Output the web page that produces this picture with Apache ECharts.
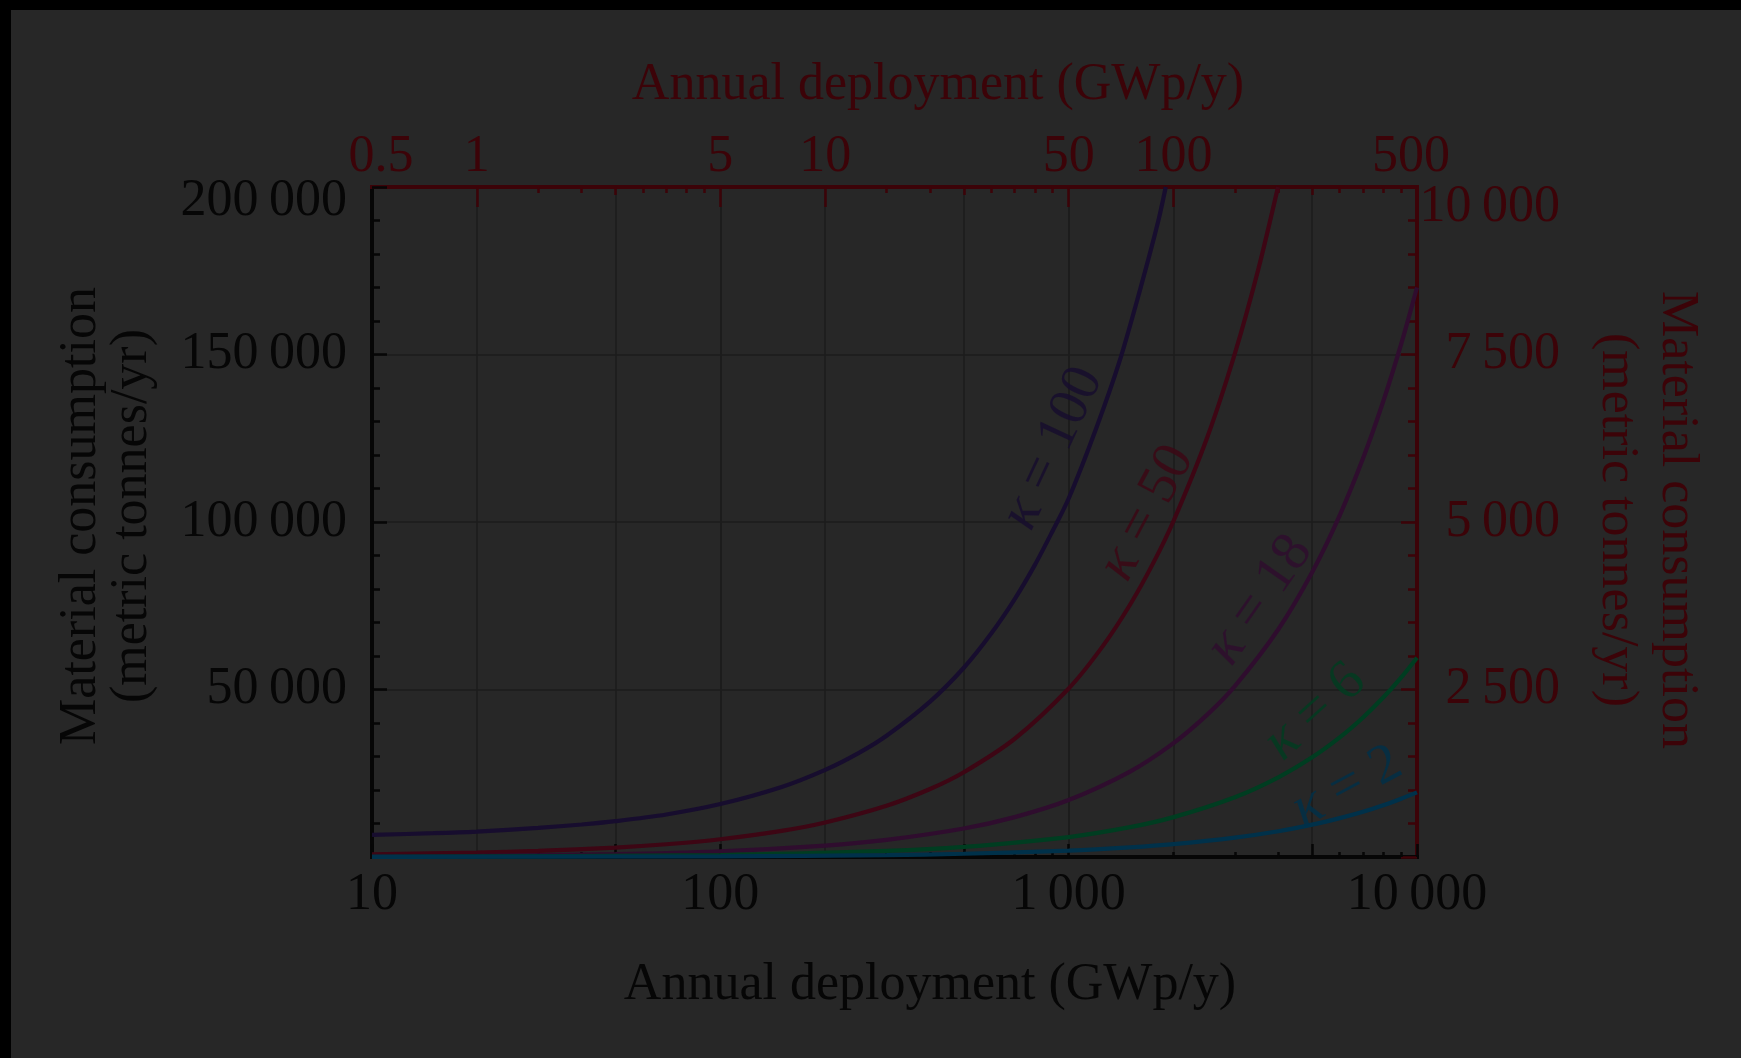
<!DOCTYPE html>
<html>
<head>
<meta charset="utf-8">
<script src="https://cdn.jsdelivr.net/npm/echarts@6/dist/echarts.min.js"></script>
<style>
  html, body { margin: 0; padding: 0; background: #000; }
  #chart { position: absolute; left: 0; top: 0; width: 1741px; height: 1058px; }
</style>
</head>
<body>
<div id="chart"></div>
<script>
// ---- bottom scale: annual deployment (GWp/y) ----
const bottomLabelValues = [10, 100, 1000, 10000];
const bottomMajorTicks = [50, 100, 500, 1000, 5000];
const bottomMinorTicks = [20, 30, 40, 60, 70, 80, 90, 200, 300, 400, 600, 700, 800, 900,
                          2000, 3000, 4000, 6000, 7000, 8000, 9000];

// ---- top scale: annual deployment (GWp/y) ----
const topLabelValues = [0.5, 1, 5, 10, 50, 100, 500];
const topMajorTicks = [1, 5, 10, 50, 100];
const topMidTicks = [2.5, 25, 250];
const topMinorTicks = [1.5, 2, 3, 3.5, 4, 4.5, 15, 20, 30, 35, 40, 45, 150, 200, 300, 350, 400, 450];

// ---- vertical scales: material consumption (metric tonnes/yr) ----
const leftRange = [0, 200000];
const leftStep = 50000;
const rightRange = [0, 10000];
const rightStep = 2500;

// ---- curves: [deployment, consumption] ----
const kappa100 = [[10, 6600], [15, 7100], [20, 7600], [30, 8700], [40, 9700], [50, 10700],
                  [70, 12700], [100, 15800], [150, 20900], [200, 26000], [250, 31100],
                  [300, 36200], [400, 46400], [500, 56500], [600, 66800], [700, 77000],
                  [800, 87200], [900, 97400], [1000, 107000], [1200, 128000], [1400, 148000],
                  [1600, 169000], [1800, 189000], [1900, 200000]];
const kappa50 = [[10, 800], [20, 1300], [30, 1800], [50, 2800], [70, 3800], [100, 5300],
                 [150, 7800], [200, 10300], [300, 15300], [400, 20300], [500, 25300],
                 [700, 35300], [1000, 50300], [1250, 62800], [1500, 75300], [1750, 87800],
                 [2000, 100300], [2500, 125300], [3000, 150300], [3500, 175300], [3990, 200000]];
const kappa18 = [[10, 170], [20, 340], [50, 850], [100, 1700], [200, 3400], [300, 5100],
                 [500, 8500], [700, 11900], [1000, 17000], [1500, 25500], [2000, 34000],
                 [2500, 42500], [3000, 51000], [4000, 68000], [5000, 85000], [6000, 102000],
                 [7000, 119000], [8000, 136000], [9000, 153000], [10000, 170000]];
const kappa6 = [[10, 60], [100, 600], [300, 1800], [500, 3000], [1000, 5950], [1500, 8900],
                [2000, 11900], [3000, 17850], [4000, 23800], [5000, 29750], [6000, 35700],
                [7000, 41650], [8000, 47600], [9000, 53550], [10000, 59500]];
const kappa2 = [[10, 20], [100, 195], [300, 580], [500, 965], [1000, 1930], [1500, 2900],
                [2000, 3860], [3000, 5800], [4000, 7700], [5000, 9650], [6000, 11600],
                [7000, 13500], [8000, 15450], [9000, 17400], [10000, 19300]];

const curveNames = ['κ = 100', 'κ = 50', 'κ = 18', 'κ = 6', 'κ = 2'];
const curveValues = ['100', '50', '18', '6', '2'];
const curves = [kappa100, kappa50, kappa18, kappa6, kappa2];

// ---- appearance ----
const FONT = '"Liberation Serif", "DejaVu Serif", serif';
const INK = '#060606';
const RED = '#3c0308';
const GRID = '#1c1c1c';
const curveColors = ['#170d2e', '#3d0614', '#2f0d2e', '#003d21', '#00314a'];
// where each κ tag sits (deployment, consumption) and its slant in degrees
const tagAnchors = [[902, 122000], [1680, 102700], [3540, 76700], [5100, 43300], [6300, 20900]];
const tagAngles = [65, 62, 55, 42, 28];

function fmt(v) {
  const s = String(v);
  if (Math.abs(v) < 1000) return s;
  return s.replace(/\B(?=(\d{3})+(?!\d))/g, '\u2009');
}
const lg = v => Math.log10(v);

const chart = echarts.init(document.getElementById('chart'), null, { renderer: 'canvas' });

const labelFont = { fontFamily: FONT, fontSize: 52 };
const hiddenLine = { show: false, onZero: false };

const bottomExtent = { min: lg(10), max: lg(10000) };
const topExtent = { min: lg(0.5), max: lg(500) };

const xAxes = [
  // main bottom scale (log), carries the curves
  {
    type: 'log', logBase: 10, position: 'bottom', min: 10, max: 10000,
    axisLine: { show: true, onZero: false, lineStyle: { color: INK, width: 4, cap: 'square' } },
    axisTick: { show: true, inside: true, length: 13, lineStyle: { color: INK, width: 2.5 } },
    minorTick: { show: false },
    splitLine: { show: false },
    axisLabel: { show: true, color: INK, margin: 12, ...labelFont, formatter: v => fmt(v) }
  },
  // bottom 1/5 ticks and vertical grid
  {
    type: 'value', position: 'bottom', ...bottomExtent,
    axisLine: hiddenLine,
    axisTick: { show: true, inside: true, length: 13, customValues: bottomMajorTicks.map(lg),
                lineStyle: { color: INK, width: 2.5 } },
    splitLine: { show: true, lineStyle: { color: GRID, width: 1.5 } },
    axisLabel: { show: false }
  },
  // bottom minor ticks
  {
    type: 'value', position: 'bottom', ...bottomExtent,
    axisLine: hiddenLine,
    axisTick: { show: true, inside: true, length: 5, customValues: bottomMinorTicks.map(lg),
                lineStyle: { color: INK, width: 2.5 } },
    splitLine: { show: false },
    axisLabel: { show: false }
  },
  // top scale: line, labels, major ticks and their grid lines
  {
    type: 'value', position: 'top', ...topExtent,
    axisLine: { show: true, onZero: false, lineStyle: { color: RED, width: 4, cap: 'square' } },
    axisTick: { show: true, inside: true, length: 20, customValues: topMajorTicks.map(lg),
                lineStyle: { color: RED, width: 2.5 } },
    splitLine: { show: true, lineStyle: { color: GRID, width: 1.5 } },
    axisLabel: {
      show: true, color: RED, margin: 4, ...labelFont,
      customValues: topLabelValues.map(lg),
      formatter: v => {
        const i = topLabelValues.findIndex(t => Math.abs(lg(t) - v) < 1e-9);
        if (i < 0) return '';
        if (i === 0) return '{first|' + fmt(topLabelValues[i]) + '}';
        if (i === topLabelValues.length - 1) return '{last|' + fmt(topLabelValues[i]) + '}';
        return fmt(topLabelValues[i]);
      },
      rich: {
        first: { color: RED, ...labelFont, padding: [0, 0, 0, 18] },
        last: { color: RED, ...labelFont, padding: [0, 12, 0, 0] }
      }
    }
  },
  // top mid ticks
  {
    type: 'value', position: 'top', ...topExtent,
    axisLine: hiddenLine,
    axisTick: { show: true, inside: true, length: 8, customValues: topMidTicks.map(lg),
                lineStyle: { color: RED, width: 2.5 } },
    splitLine: { show: false },
    axisLabel: { show: false }
  },
  // top minor ticks
  {
    type: 'value', position: 'top', ...topExtent,
    axisLine: hiddenLine,
    axisTick: { show: true, inside: true, length: 6, customValues: topMinorTicks.map(lg),
                lineStyle: { color: RED, width: 2.5 } },
    splitLine: { show: false },
    axisLabel: { show: false }
  }
];

const yAxes = [
  {
    type: 'value', position: 'left', min: leftRange[0], max: leftRange[1], interval: leftStep,
    axisLine: { show: true, onZero: false, lineStyle: { color: INK, width: 4, cap: 'square' } },
    axisTick: { show: true, inside: true, length: 15, lineStyle: { color: INK, width: 2.5 } },
    minorTick: { show: true, splitNumber: 5, length: 8, lineStyle: { color: INK, width: 2.5 } },
    splitLine: { show: true, showMinLine: false, showMaxLine: false, lineStyle: { color: GRID, width: 1.5 } },
    axisLabel: {
      show: true, showMinLabel: false, margin: 25, color: INK, ...labelFont,
      formatter: v => v === leftRange[1] ? '{edge|' + fmt(v) + '}' : fmt(v),
      rich: { edge: { color: INK, ...labelFont, padding: [29, 0, 0, 0] } }
    }
  },
  {
    type: 'value', position: 'right', min: rightRange[0], max: rightRange[1], interval: rightStep,
    axisLine: { show: true, onZero: false, lineStyle: { color: RED, width: 4, cap: 'square' } },
    axisTick: { show: true, inside: true, length: 16, lineStyle: { color: RED, width: 2.5 } },
    minorTick: { show: true, splitNumber: 5, length: 9, lineStyle: { color: RED, width: 2.5 } },
    splitLine: { show: false },
    axisLabel: {
      show: true, showMinLabel: false, margin: 143, align: 'right', color: RED, ...labelFont,
      formatter: v => v === rightRange[1] ? '{edge|' + fmt(v) + '}' : fmt(v),
      rich: { edge: { color: RED, ...labelFont, padding: [41, 0, 0, 0] } }
    }
  }
];

const lineSeries = curves.map((pts, i) => ({
  type: 'line',
  name: curveNames[i],
  xAxisIndex: 0, yAxisIndex: 0,
  data: pts,
  showSymbol: false,
  smooth: 0.3,
  clip: true,
  lineStyle: { color: curveColors[i], width: 4.2 },
  z: 3
}));

const tagSeries = {
  type: 'scatter',
  xAxisIndex: 0, yAxisIndex: 0,
  symbolSize: 0,
  itemStyle: { color: 'transparent' },
  silent: true,
  z: 4,
  data: tagAnchors.map((p, i) => ({
    value: p,
    label: {
      show: true, position: 'inside', rotate: tagAngles[i],
      formatter: '{k|κ} = ' + curveValues[i],
      color: curveColors[i], fontFamily: FONT, fontSize: 56,
      rich: { k: { fontStyle: 'italic', fontFamily: FONT, fontSize: 58, color: curveColors[i] } }
    }
  }))
};

const titleStyle = (fill) => ({ fontFamily: FONT, fontSize: 52, fill: fill, align: 'center', verticalAlign: 'middle' });

chart.setOption({
  animation: false,
  backgroundColor: '#272727',
  grid: { left: 372, right: 324, top: 187, bottom: 201, containLabel: false },
  xAxis: xAxes,
  yAxis: yAxes,
  series: [...lineSeries, tagSeries],
  graphic: [
    { type: 'rect', shape: { x: 0, y: 0, width: 1741, height: 10 }, style: { fill: '#000' }, silent: true },
    { type: 'rect', shape: { x: 0, y: 0, width: 11, height: 1058 }, style: { fill: '#000' }, silent: true },
    { type: 'text', x: 938, y: 85, silent: true,
      style: { text: 'Annual deployment (GWp/y)', ...titleStyle(RED) } },
    { type: 'text', x: 930, y: 985, silent: true,
      style: { text: 'Annual deployment (GWp/y)', ...titleStyle(INK) } },
    { type: 'text', x: 107, y: 516, rotation: Math.PI / 2, silent: true,
      style: { text: 'Material consumption\n(metric tonnes/yr)', lineHeight: 51, ...titleStyle(INK) } },
    { type: 'text', x: 1647, y: 520, rotation: -Math.PI / 2, silent: true,
      style: { text: 'Material consumption\n(metric tonnes/yr)', lineHeight: 60, ...titleStyle(RED) } }
  ]
});
</script>
</body>
</html>
